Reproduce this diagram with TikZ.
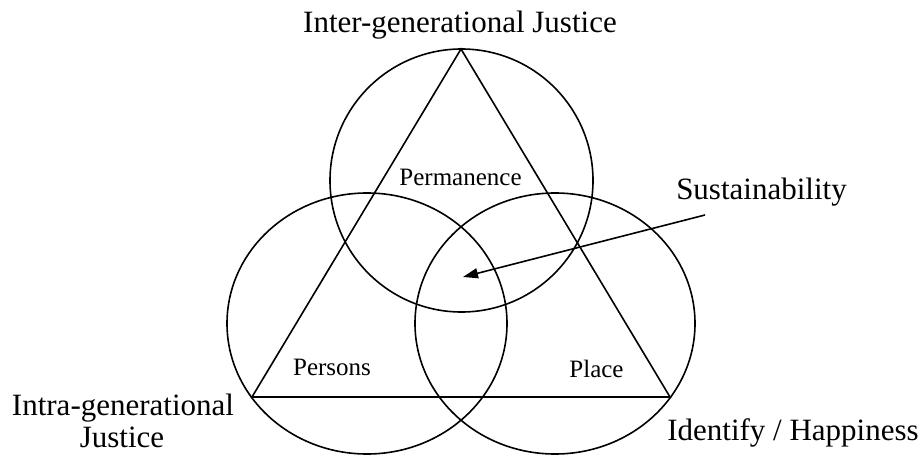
\documentclass[tikz,border=0pt]{standalone}
\usepackage{fontspec}
\setmainfont{Liberation Serif}
\usetikzlibrary{arrows.meta}
\begin{document}
\begin{tikzpicture}[x=1pt,y=-1pt,
  ring/.style={draw,line width=1.6pt},
  edge/.style={draw,line width=1.6pt,line join=miter},
  biglabel/.style={font=\fontsize{31}{33}\selectfont,inner sep=0pt,anchor=base,align=center},
  smalllabel/.style={font=\fontsize{25}{27}\selectfont,inner sep=0pt,anchor=base},
  pointer/.style={draw,line width=1.6pt,-{Triangle[length=15pt,width=10pt]}}]
\useasboundingbox (0,0) rectangle (921,455);
% circles
\draw[ring] (461.5,180.5) ellipse [x radius=131.5, y radius=131.5];
\draw[ring] (367,323.5) ellipse [x radius=140, y radius=130.5];
\draw[ring] (555,323.5) ellipse [x radius=140, y radius=130.5];
% triangle
\coordinate (apex) at (461,49);
\coordinate (bl) at (252,397);
\coordinate (br) at (670,397);
\draw[edge] (apex) -- (bl) -- (br) -- cycle;
% labels
\node[biglabel] (inter) at (460,32) {Inter-generational Justice};
\node[biglabel] (sust) at (761.5,199) {Sustainability};
\node[biglabel] (intra1) at (123,415) {Intra-generational};
\node[biglabel] (intra2) at (122,447) {Justice};
\node[biglabel] (ident) at (793,440) {Identify / Happiness};
\node[smalllabel] (perm) at (460.5,185) {Permanence};
\node[smalllabel] (pers) at (332,375) {Persons};
\node[smalllabel] (place) at (596.5,377) {Place};
% arrow
\coordinate (astart) at (705,215);
\coordinate (atip) at (463,277);
\draw[pointer] (astart) -- (atip);
\end{tikzpicture}
\end{document}
